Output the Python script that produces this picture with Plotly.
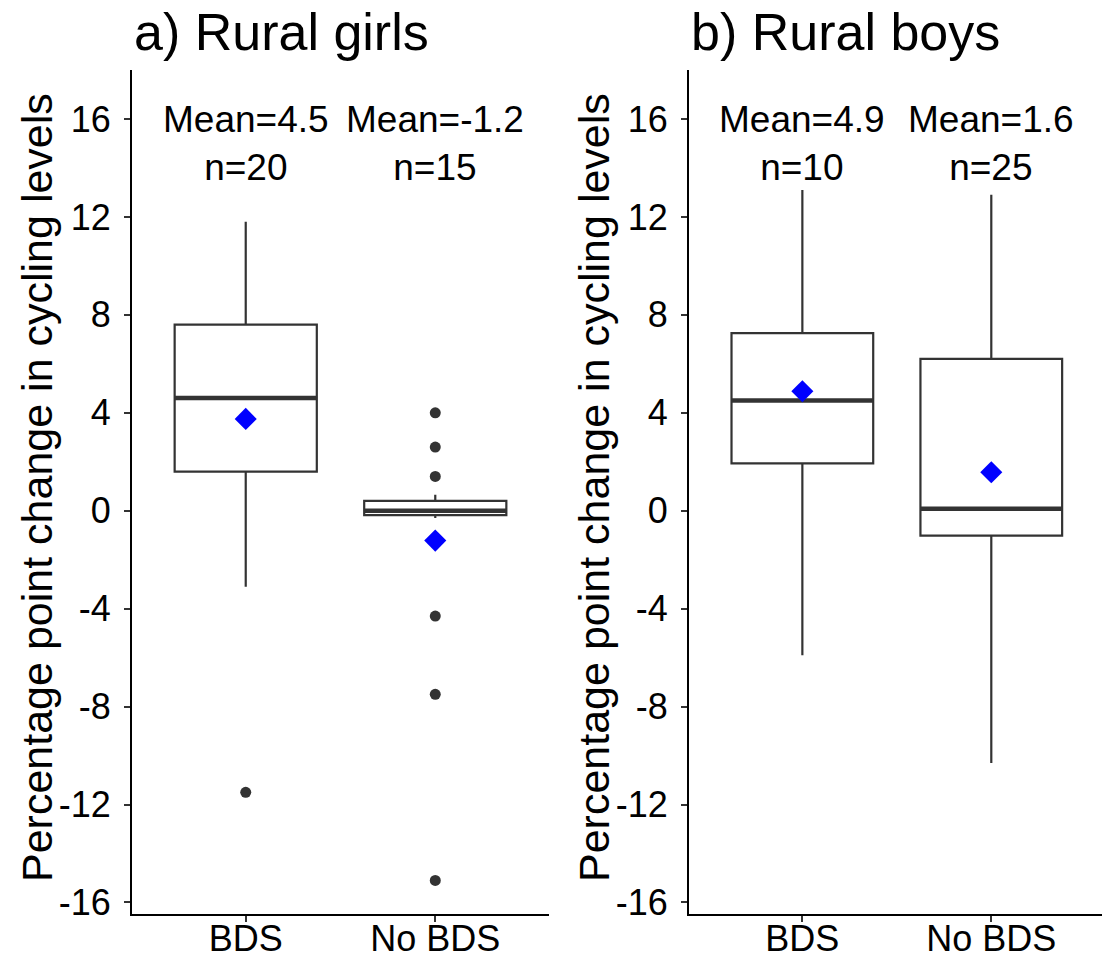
import plotly.graph_objects as go

# ---------------- data ----------------
groups = ["BDS", "No BDS"]
group_pos = [1, 2]

girls_q1 = [1.6, -0.18]
girls_median = [4.6, 0.0]
girls_q3 = [7.6, 0.4]
girls_lower = [-3.1, -0.3]
girls_upper = [11.8, 0.65]
girls_means = [3.75, -1.22]
girls_out_bds = [-11.5]
girls_out_nobds = [4.0, 2.6, 1.4, -4.3, -7.5, -15.1]
girls_mean_text = ["4.5", "-1.2"]
girls_n = [20, 15]

boys_q1 = [1.93, -1.02]
boys_median = [4.5, 0.08]
boys_q3 = [7.25, 6.2]
boys_lower = [-5.9, -10.3]
boys_upper = [13.1, 12.9]
boys_means = [4.88, 1.57]
boys_out_bds = []
boys_out_nobds = []
boys_mean_text = ["4.9", "1.6"]
boys_n = [10, 25]

y_ticks = [-16, -12, -8, -4, 0, 4, 8, 12, 16]
y_tick_labels = ["-16", "-12", "-8", "-4", "0", "4", "8", "12", "16"]
panel_titles = ["a) Rural girls", "b) Rural boys"]
y_title = "Percentage point change in cycling levels"

# ---------------- style ----------------
FONT = "Liberation Sans, Arial, sans-serif"
W, H = 1102, 962
BOX_COL = "#333333"
BOX_W = 0.75
LABEL_Y = 15.0

fig = go.Figure()

panels = [
    dict(q1=girls_q1, med=girls_median, q3=girls_q3, lo=girls_lower, hi=girls_upper,
         means=girls_means, outs=[girls_out_bds, girls_out_nobds],
         mt=girls_mean_text, n=girls_n, xa="x", ya="y"),
    dict(q1=boys_q1, med=boys_median, q3=boys_q3, lo=boys_lower, hi=boys_upper,
         means=boys_means, outs=[boys_out_bds, boys_out_nobds],
         mt=boys_mean_text, n=boys_n, xa="x2", ya="y2"),
]

annotations = []
for p in panels:
    fig.add_trace(go.Box(
        x=group_pos, q1=p["q1"], median=p["med"], q3=p["q3"],
        lowerfence=p["lo"], upperfence=p["hi"],
        boxpoints=False, width=BOX_W, whiskerwidth=0,
        fillcolor="white", line=dict(color=BOX_COL, width=2.2),
        xaxis=p["xa"], yaxis=p["ya"], showlegend=False, hoverinfo="skip"))
    # thicker median lines
    for xp, m in zip(group_pos, p["med"]):
        fig.add_trace(go.Scatter(
            x=[xp - BOX_W / 2, xp + BOX_W / 2], y=[m, m], mode="lines",
            line=dict(color=BOX_COL, width=4.5),
            xaxis=p["xa"], yaxis=p["ya"], showlegend=False, hoverinfo="skip"))
    # outliers
    for xp, outs in zip(group_pos, p["outs"]):
        if outs:
            fig.add_trace(go.Scatter(
                x=[xp] * len(outs), y=outs, mode="markers",
                marker=dict(color=BOX_COL, size=11),
                xaxis=p["xa"], yaxis=p["ya"], showlegend=False, hoverinfo="skip"))
    # means
    fig.add_trace(go.Scatter(
        x=group_pos, y=p["means"], mode="markers",
        marker=dict(color="#0000FF", symbol="diamond", size=17, line=dict(width=0)),
        xaxis=p["xa"], yaxis=p["ya"], showlegend=False, hoverinfo="skip"))
    # labels
    for xp, mt, n in zip(group_pos, p["mt"], p["n"]):
        annotations.append(dict(
            x=xp, y=LABEL_Y, xref=p["xa"], yref=p["ya"],
            text=f"Mean={mt}<br>n={n}", showarrow=False,
            font=dict(family=FONT, size=37, color="black"),
            xanchor="center", yanchor="middle"))

plot_top, plot_bot = 70, 914
ph = plot_bot - plot_top
left_dom = [132 / W, 549 / W]
right_dom = [689 / W, 1.0]

axis_common = dict(
    showline=True, linecolor="black", linewidth=2,
    ticks="outside", ticklen=6, tickwidth=1.5, tickcolor="#333333",
    showgrid=False, zeroline=False, automargin=False,
    tickfont=dict(family=FONT, size=36, color="black"),
)

fig.update_layout(
    width=W, height=H,
    margin=dict(l=0, r=0, t=plot_top, b=H - plot_bot),
    paper_bgcolor="white", plot_bgcolor="white",
    xaxis=dict(domain=left_dom, range=[0.4, 2.6], tickvals=group_pos, ticktext=groups,
               anchor="y", ticklabelstandoff=-14, **axis_common),
    yaxis=dict(domain=[0, 1], range=[-16.47, 18.0], tickvals=y_ticks, ticktext=y_tick_labels,
               anchor="x", ticklabelstandoff=6, **axis_common),
    xaxis2=dict(domain=right_dom, range=[0.4, 2.586], tickvals=group_pos, ticktext=groups,
                anchor="y2", ticklabelstandoff=-14, **axis_common),
    yaxis2=dict(domain=[0, 1], range=[-16.47, 18.0], tickvals=y_ticks, ticktext=y_tick_labels,
                anchor="x2", ticklabelstandoff=6, **axis_common),
)

# panel titles and y-axis titles
for dom, title in zip([left_dom, right_dom], panel_titles):
    annotations.append(dict(
        x=dom[0], y=1 + 38 / ph, xref="paper", yref="paper",
        text=title, showarrow=False, xanchor="left", yanchor="middle",
        font=dict(family=FONT, size=52, color="black")))
    annotations.append(dict(
        x=(dom[0] * W - 95) / W, y=(plot_bot - 488) / ph, xref="paper", yref="paper",
        text=y_title, showarrow=False, textangle=-90,
        xanchor="center", yanchor="middle",
        font=dict(family=FONT, size=43, color="black")))

fig.update_layout(annotations=annotations)
fig.write_html("out.html")
